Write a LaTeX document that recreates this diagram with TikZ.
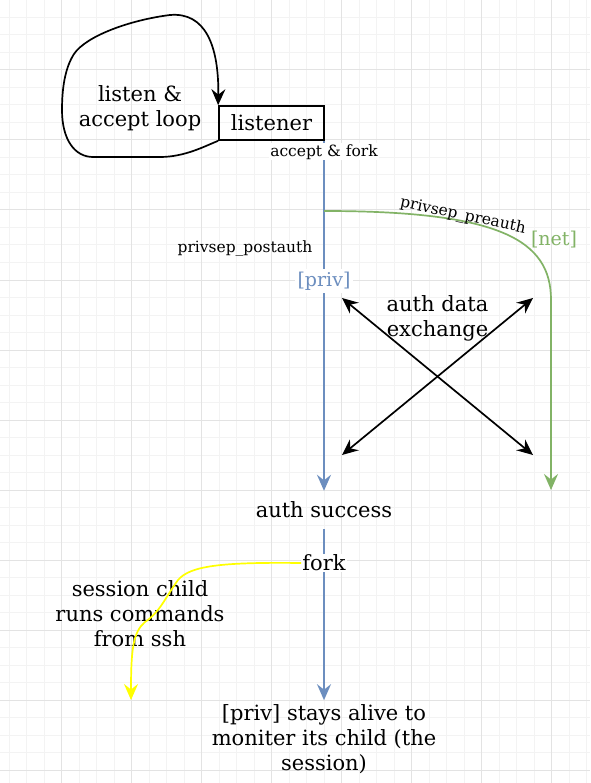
\documentclass[tikz,border=0pt]{standalone}
\usepackage{fontspec}
\setmainfont{DejaVu Serif}
\usetikzlibrary{arrows.meta}
\definecolor{dblue}{HTML}{6C8EBF}
\definecolor{dgreen}{HTML}{82B366}
\definecolor{dyellow}{HTML}{FFFF00}
\definecolor{gminor}{HTML}{F3F3F3}
\definecolor{gmajor}{HTML}{E3E3E3}
\begin{document}
\begin{tikzpicture}[x=1pt,y=-1pt,
  big/.style={font=\fontsize{21}{25}\selectfont, align=center, inner sep=0pt},
  small/.style={font=\fontsize{15.5}{18}\selectfont, inner sep=1pt},
  mid/.style={font=\fontsize{19}{22}\selectfont, inner sep=1pt},
  tipend/.style={-{Stealth[length=16pt,width=14pt,inset=5.5pt]}},
  dtip/.style={{Stealth[length=16pt,width=14pt,inset=5.5pt]}-{Stealth[length=16pt,width=14pt,inset=5.5pt]}},
  ln/.style={line width=1.7pt},
]
\useasboundingbox (0,0) rectangle (590,783);
\fill[white] (0,0) rectangle (590,783);
% grid
\foreach \i in {0,...,33} { \draw[gminor, line width=1pt] ({9.2+17.5*\i},0) -- ({9.2+17.5*\i},783); }
\foreach \i in {0,...,44} { \draw[gminor, line width=1pt] (0,{17.5*\i}) -- (590,{17.5*\i}); }
\foreach \i in {0,...,7} { \draw[gmajor, line width=1pt] ({61.7+70*\i},0) -- ({61.7+70*\i},783); }
\foreach \i in {0,...,11} { \draw[gmajor, line width=1pt] (0,{70*\i}) -- (590,{70*\i}); }

% nodes
\node[draw, line width=1.7pt, minimum width=105pt, minimum height=34pt, big] (listener) at (271.5,123) {listener};
\node[big] (looplbl) at (140,108) {listen \&\\accept loop};
\node[big, minimum height=38pt] (authok) at (324,510) {auth success};
\node[big, inner xsep=0pt, inner ysep=4pt] (stays) at (324,739) {[priv] stays alive to\\moniter its child (the\\session)};
\node[big] (sess) at (140,614) {session child\\runs commands\\from ssh};
\node[big] (xlbl) at (437.5,318.5) {auth data\\exchange};

\coordinate (gstart) at (324,211);
\coordinate (netend) at (551,490);
\coordinate (yend) at (131,700);
\coordinate (a1) at (342,298);
\coordinate (a2) at (533,455);
\coordinate (b1) at (342,455);
\coordinate (b2) at (533,298);

% loop
\draw[ln, tipend] (listener.south west) .. controls (205,146) and (185,157) .. (160,157) -- (93,157)
  .. controls (75,157) and (62,140) .. (62,110)
  .. controls (62,88) and (65,68) .. (74,54)
  .. controls (86,36) and (130,20) .. (170,15)
  .. controls (205,12) and (219,45) .. (listener.north west);

% blue main line
\draw[ln, dblue, tipend] (authok.north |- listener.south) -- (authok.north);
% green preauth
\draw[ln, dgreen, tipend] (gstart) .. controls (500,211) and (551,240) .. (551,300) -- (netend);
% second blue
\draw[ln, dblue, tipend] (authok.south) -- (stays.north);
% X arrows
\draw[ln, dtip] (a1) -- (a2);
\draw[ln, dtip] (b1) -- (b2);

% labels on lines
\node[small, fill=white] (acc) at (324,152) {accept \& fork};
\node[mid, fill=white, text=dblue, inner sep=3pt] (priv) at (324,281) {[priv]};
\node[small] (post) at (245,248) {privsep\_postauth};
\node[small, rotate=-12] (pre) at (463,216) {privsep\_preauth};
\node[mid, text=dgreen] (net) at (554,240) {[net]};
\node[big, fill=white, inner sep=1pt] (fork) at (324,563) {fork};

% yellow
\draw[ln, dyellow, tipend] (fork.west) .. controls (220,562) and (190,566) .. (178,580)
  .. controls (165,598) and (160,612) .. (145,622)
  .. controls (133,632) and (131,650) .. (yend);
\end{tikzpicture}
\end{document}
